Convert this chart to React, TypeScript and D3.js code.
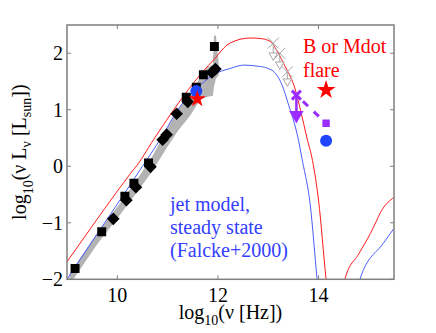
import React from 'react';
import * as d3 from 'd3';

// log10(nu [Hz]) vs log10(nu L_nu [L_sun])
const redX = [9.0, 9.5, 10.0, 10.26, 10.3, 10.34, 10.72, 11.12, 11.51, 11.91, 12.24, 12.64, 12.85, 13.04, 13.2, 13.34, 13.54, 13.64, 13.77, 13.88, 14.0, 14.15, 14.25, 14.42, 14.53, 14.8, 15.03, 15.15, 15.23, 15.5];
const redY = [-1.69, -1.06, -0.44, -0.13, -0.08, -0.04, 0.47, 1.0, 1.47, 1.88, 2.18, 2.27, 2.26, 2.21, 2.0, 1.76, 1.35, 1.0, 0.5, 0.1, -0.6, -2.0, -2.8, -2.8, -1.98, -1.55, -1.19, -0.97, -0.82, -0.55];

const blueX = [9.0, 9.5, 10.0, 10.5, 10.85, 11.25, 11.55, 11.91, 12.24, 12.51, 12.8, 12.97, 13.14, 13.3, 13.4, 13.5, 13.6, 13.67, 13.84, 13.97, 14.07, 14.72, 14.83, 15.29, 15.5];
const blueY = [-2.0, -1.33, -0.67, 0.0, 0.47, 1.06, 1.35, 1.62, 1.73, 1.79, 1.77, 1.74, 1.65, 1.38, 1.1, 0.82, 0.47, 0.14, -0.72, -1.98, -2.8, -2.8, -1.98, -1.36, -1.1];

const bandX = [9.05, 9.6, 10.0, 10.4, 10.7, 11.0, 11.2, 11.45, 11.65, 11.8, 11.9, 11.92, 11.96, 12.02];
const bandHi = [-1.9, -1.18, -0.72, -0.22, 0.18, 0.68, 1.0, 1.28, 1.58, 1.76, 1.8, 2.3, 2.32, 1.78];
const bandLo = [-2.1, -1.38, -0.92, -0.45, -0.08, 0.35, 0.62, 0.9, 1.18, 1.23, 1.25, 1.4, 1.55, 1.62];

const sqX = [9.16, 9.69, 10.15, 10.33, 10.62, 11.37, 11.57, 11.71, 11.93];
const sqY = [-1.81, -1.16, -0.53, -0.3, 0.06, 1.22, 1.4, 1.62, 2.12];
const dmX = [9.92, 10.18, 10.37, 10.66, 10.9, 10.98, 11.18, 11.4, 11.88, 11.95];
const dmY = [-0.93, -0.6, -0.37, -0.01, 0.47, 0.56, 0.93, 1.14, 1.66, 1.72];

// NIR upper limits (gray)
const ulX = [13.1, 13.23, 13.38];
const ulY = [2.18, 2.0, 1.67];
const ulArrowY = [1.98, 1.82, 1.52];

// flare points
const purpleLim = [13.56, 1.26, 0.94];
const purpleSq = [14.15, 0.76];
const flareStar = [14.15, 1.35];
const flareCircle = [14.15, 0.45];
const quietCircle = [11.57, 1.33];
const quietStar = [11.59, 1.19];

const xTicks = [10, 12, 14];
const yTicks = [-2, -1, 0, 1, 2];

const W = 436;
const H = 333;
const left = 67, right = 394, top = 25, bottom = 279.3;
const FONT = '"Liberation Serif", "Times New Roman", serif';
const RED = '#ff1a1a';
const BLUE = '#4a5bff';
const DOT = '#1f45ff';
const PURPLE = '#9b2cff';
const AXIS = '#7f7f7f';

const xPath = (s: number) => `M${-s},${-s}L${s},${s}M${-s},${s}L${s},${-s}`;

export default function App() {
  const x = d3.scaleLinear().domain([9, 15.5]).range([left, right]);
  const y = d3.scaleLinear().domain([-2, 2.5]).range([bottom, top]);

  const redPath = d3.line<number>().x(d => x(d)).y((d, i) => y(redY[i])).curve(d3.curveMonotoneX)(redX);
  const bluePath = d3.line<number>().x(d => x(d)).y((d, i) => y(blueY[i])).curve(d3.curveMonotoneX)(blueX);
  const bandPath = d3.area<number>()
    .x(d => x(d))
    .y0((d, i) => y(bandLo[i]))
    .y1((d, i) => y(bandHi[i]))(bandX);

  const square = d3.symbol(d3.symbolSquare, 80)();
  const diamond = d3.symbol(d3.symbolSquare, 80)();
  const tri = d3.symbol(d3.symbolTriangle, 32)();
  const triBig = d3.symbol(d3.symbolTriangle, 90)();
  const star = d3.symbol(d3.symbolStar, 110)();
  const starSmall = d3.symbol(d3.symbolStar, 90)();
  const sqSmall = d3.symbol(d3.symbolSquare, 55)();

  return (
    <svg width={W} height={H} style={{ position: 'absolute', left: 0, top: 0, background: '#fff' }} fontFamily={FONT}>
      <defs>
        <clipPath id="plot">
          <rect x={left} y={top} width={right - left} height={bottom - top} />
        </clipPath>
      </defs>

      <g clipPath="url(#plot)">
        <path d={bandPath || ''} fill="#b3b3b3" />
        <path d={redPath || ''} fill="none" stroke={RED} strokeWidth={1} />
        <path d={bluePath || ''} fill="none" stroke={BLUE} strokeWidth={1} />

        {sqX.map((d, i) => (
          <path key={'s' + i} d={square} transform={`translate(${x(d)},${y(sqY[i])})`} fill="#000" />
        ))}
        {dmX.map((d, i) => (
          <path key={'d' + i} d={diamond} transform={`translate(${x(d)},${y(dmY[i])}) rotate(45)`} fill="#000" />
        ))}

        {ulX.map((d, i) => (
          <g key={'u' + i} stroke="#a6a6a6" strokeWidth={1}>
            <line x1={x(d)} x2={x(d)} y1={y(ulY[i])} y2={y(ulArrowY[i])} />
            <path d={xPath(5.5)} transform={`translate(${x(d)},${y(ulY[i])})`} fill="none" />
            <path d={tri} transform={`translate(${x(d)},${y(ulArrowY[i]) + 1}) rotate(180)`} fill="#fff" />
          </g>
        ))}

        <circle cx={x(quietCircle[0])} cy={y(quietCircle[1])} r={6} fill={DOT} />
        <path d={starSmall} transform={`translate(${x(quietStar[0])},${y(quietStar[1])})`} fill="#ff0000" />

        <line x1={x(purpleLim[0])} x2={x(purpleSq[0])} y1={y(purpleLim[1])} y2={y(purpleSq[1])}
          stroke={PURPLE} strokeWidth={3} strokeDasharray="7,8" strokeDashoffset={-9} />
        <line x1={x(purpleLim[0])} x2={x(purpleLim[0])} y1={y(purpleLim[1])} y2={y(purpleLim[2])}
          stroke={PURPLE} strokeWidth={2.5} />
        <path d={xPath(4.5)} transform={`translate(${x(purpleLim[0])},${y(purpleLim[1])})`} stroke={PURPLE} strokeWidth={3} fill="none" />
        <path d={triBig} transform={`translate(${x(purpleLim[0])},${y(purpleLim[2]) + 2}) rotate(180)`} fill={PURPLE} />
        <path d={sqSmall} transform={`translate(${x(purpleSq[0])},${y(purpleSq[1])})`} fill={PURPLE} />

        <path d={star} transform={`translate(${x(flareStar[0])},${y(flareStar[1])})`} fill="#ff0000" />
        <circle cx={x(flareCircle[0])} cy={y(flareCircle[1])} r={6} fill={DOT} />
      </g>

      {/* axes box */}
      <rect x={left} y={top} width={right - left} height={bottom - top} fill="none" stroke={AXIS} strokeWidth={1.5} />
      {xTicks.map(t => (
        <g key={'xt' + t}>
          <line x1={x(t)} x2={x(t)} y1={bottom} y2={bottom - 4} stroke={AXIS} />
          <line x1={x(t)} x2={x(t)} y1={top} y2={top + 4} stroke={AXIS} />
          <text x={x(t)} y={302} fontSize={20} textAnchor="middle">{t}</text>
        </g>
      ))}
      {yTicks.map(t => (
        <g key={'yt' + t}>
          <line x1={left} x2={left + 4} y1={y(t)} y2={y(t)} stroke={AXIS} />
          <line x1={right} x2={right - 4} y1={y(t)} y2={y(t)} stroke={AXIS} />
          <text x={63} y={y(t) + 7} fontSize={20} textAnchor="end">{t < 0 ? '\u2212' + Math.abs(t) : t}</text>
        </g>
      ))}

      <text x={(left + right) / 2} y={319} fontSize={20} textAnchor="middle">
        log<tspan fontSize={14} dy={6}>10</tspan><tspan dy={-6}>(ν [Hz])</tspan>
      </text>
      <text transform={`translate(26,${(top + bottom) / 2}) rotate(-90)`} fontSize={20} textAnchor="middle">
        log<tspan fontSize={14} dy={7}>10</tspan><tspan dy={-7}>(ν L</tspan><tspan fontSize={14} dy={5}>ν</tspan>
        <tspan dy={-5}> [L</tspan><tspan fontSize={14} dy={5}>sun</tspan><tspan dy={-5}>])</tspan>
      </text>

      <text x={303} y={53} fontSize={20} fill="#ff0000">B or Mdot</text>
      <text x={303} y={77} fontSize={20} fill="#ff0000">flare</text>

      <text x={170} y={211} fontSize={20} fill="#3340ff">jet model,</text>
      <text x={170} y={234} fontSize={20} fill="#3340ff">steady state</text>
      <text x={170} y={257} fontSize={20} fill="#3340ff">(Falcke+2000)</text>
    </svg>
  );
}
